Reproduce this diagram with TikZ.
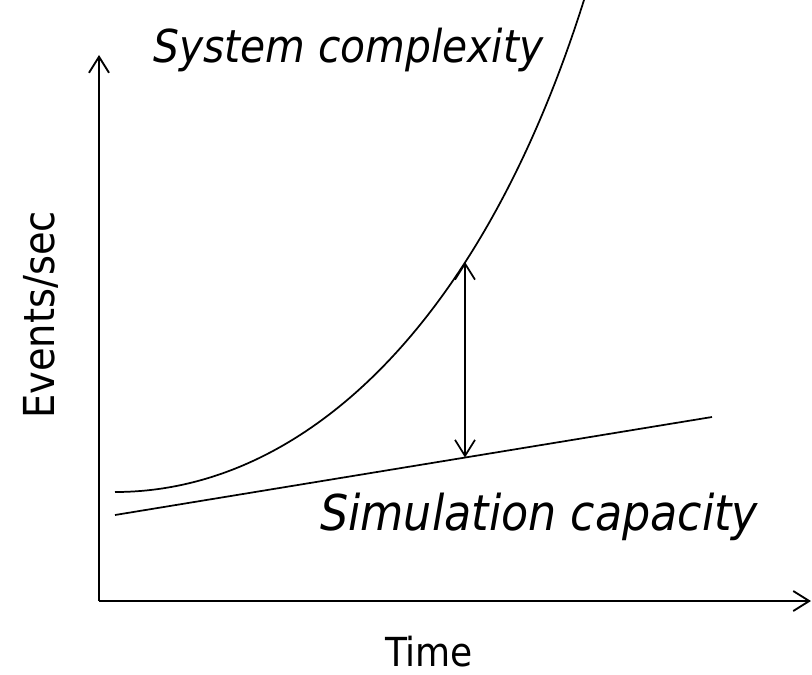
\documentclass[tikz,border=0pt]{standalone}
\usepackage{fontspec}
\setmainfont{DejaVu Sans Condensed}[ItalicFont=DejaVu Sans Condensed Oblique]
\usetikzlibrary{arrows.meta}
\begin{document}
\begin{tikzpicture}[x=0.75pt,y=-0.75pt,
  barb/.tip={Straight Barb[length=12pt,width=15pt]},
  axisline/.style={line width=1.4pt,-barb},
  curveline/.style={line width=1.3pt},
  gaparrow/.style={line width=1.3pt,barb-barb},
  label/.style={inner sep=0pt,text depth=0pt,font=\fontsize{30}{36}\selectfont},
  curvelabel/.style={inner sep=0pt,text depth=0pt,font=\fontsize{34}{40}\selectfont\itshape}]
\useasboundingbox (0,0) rectangle (812,674);

% axes
\coordinate (O) at (99,601);
\coordinate (ytop) at (99,55);
\coordinate (xend) at (811,601);
\draw[axisline] (O) -- (ytop);
\draw[axisline] (O) -- (xend);

% simulation capacity: straight line
\coordinate (s0) at (115,515);
\coordinate (s1) at (712,417);
\draw[curveline] (s0) -- (s1);

% system complexity: steeply growing curve
\coordinate (c0) at (115,492);
\coordinate (c1) at (584,0);
\draw[curveline] (c0) .. controls (300,492) and (480,330) .. (c1);

% gap between the two curves
\coordinate (gtop) at (465,262);
\coordinate (gbot) at (465,457.5);
\draw[gaparrow] (gtop) -- (gbot);

% labels
\node[curvelabel,anchor=base west] (syslbl) at (153,62) {System complexity};
\node[curvelabel,anchor=base west,font=\fontsize{37}{44}\selectfont\itshape] (simlbl) at (320,530) {Simulation capacity};
\node[label,anchor=base] (timelbl) at (429,666) {Time};
\node[label,anchor=base,rotate=90,font=\fontsize{32}{38}\selectfont] (evlbl) at (54,315) {Events/sec};
\end{tikzpicture}
\end{document}
